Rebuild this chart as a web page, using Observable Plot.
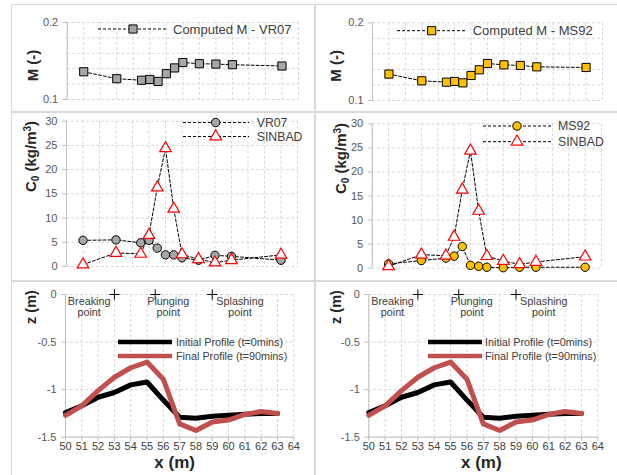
<!DOCTYPE html>
<html><head><meta charset="utf-8">
<script src="https://cdn.jsdelivr.net/npm/d3@7"></script>
<script src="https://cdn.jsdelivr.net/npm/@observablehq/plot@0.6"></script>
<style>
body{margin:0;background:#fff;font-family:"Liberation Sans",Arial,sans-serif;}
#wrap{position:relative;width:617px;height:475px;overflow:hidden;background:#fff;}
.cell{position:absolute;outline:1px solid #d9d9d9;}
.cell svg{display:block;overflow:visible;}
</style></head><body><div id="wrap"></div>
<script>
// ---------- data ----------
const stations = [51, 53, 54.5, 55, 55.5, 56, 56.5, 57, 58, 59, 60, 63];
const mVR07 = [0.136, 0.127, 0.125, 0.126, 0.1235, 0.1335, 0.141, 0.148, 0.1465, 0.146, 0.1452, 0.1435];
const mMS92 = [0.134, 0.1253, 0.1236, 0.1245, 0.1227, 0.1322, 0.1395, 0.1476, 0.1459, 0.1451, 0.1433, 0.1425];
const c0VR07 = [5.4, 5.5, 4.9, 5.4, 3.8, 2.4, 2.4, 1.8, 1.3, 2.3, 2.1, 1.3];
const c0MS92 = [0.9, 1.6, 2.1, 2.5, 4.5, 0.6, 0.4, 0.2, 0.1, 0.2, 0.2, 0.2];
const c0SINBAD = [0.4, 2.8, 2.6, 6.5, 16.3, 24.4, 11.9, 2.5, 1.5, 0.8, 1.3, 2.4];
const profileX = [50, 51, 52, 53, 54, 55, 56, 57, 58, 59, 60, 61, 62, 63];
const zInitial = [-1.24, -1.17, -1.08, -1.03, -0.95, -0.92, -1.11, -1.29, -1.30, -1.28, -1.27, -1.26, -1.25, -1.25];
const zFinal = [-1.27, -1.17, -1.01, -0.87, -0.77, -0.71, -0.89, -1.36, -1.43, -1.34, -1.32, -1.26, -1.23, -1.25];
const pointX = [53, 55.5, 59];
const pointLabels = ["Breaking\npoint", "Plunging\npoint", "Splashing\npoint"];
const pointLabelX = [51.45, 56.3, 60.7];
const xTicks = [50, 51, 52, 53, 54, 55, 56, 57, 58, 59, 60, 61, 62, 63, 64];
const mTicks = [0.1, 0.2];
const mGrid = [0.1, 0.12, 0.14, 0.16, 0.18, 0.2];
const c0Ticks = [0, 5, 10, 15, 20, 25, 30];
const zTicks = [-1.5, -1, -0.5, 0];
const xDomain = [50, 64];

// ---------- helpers ----------
const wrap = document.getElementById("wrap");
const FONT = '"Liberation Sans", Arial, sans-serif';
const GRID = {stroke: "#d9d9d9", strokeOpacity: 1, strokeDasharray: "3,2"};
const AXIS = "#bfbfbf";

function addCell(left, top, w, h, opts) {
  const div = document.createElement("div");
  div.className = "cell";
  Object.assign(div.style, {left: left + "px", top: top + "px", width: w + "px", height: h + "px"});
  const svg = Plot.plot({width: w, height: h, ...opts,
    style: {fontFamily: FONT, fontSize: "11px", color: "#595959", background: "transparent", overflow: "visible"}});
  div.appendChild(svg);
  wrap.appendChild(div);
  return d3.select(svg);
}

function legendRow(sel, o) {
  const g = sel.append("g");
  g.append("line").attr("x1", o.x1).attr("x2", o.x2).attr("y1", o.y).attr("y2", o.y)
    .attr("stroke", o.lineColor || "#000").attr("stroke-width", o.lw || 1)
    .attr("stroke-dasharray", o.dash || null);
  if (o.symbol) {
    g.append("path").attr("transform", `translate(${o.mx},${o.y})`)
      .attr("d", d3.symbol(o.symbol, Math.PI * o.r * o.r)())
      .attr("fill", o.fill).attr("stroke", o.stroke).attr("stroke-width", o.sw || 1);
  }
  g.append("text").attr("x", o.tx).attr("y", o.y).attr("dy", "0.36em")
    .attr("text-anchor", "start")
    .attr("font-family", FONT).attr("font-size", o.fs).attr("fill", "#404040").text(o.label);
}

function yTitle(label, dx, dy, size) {
  return Plot.text([label], {frameAnchor: "top-left", dx, dy, rotate: -90, textAnchor: "middle",
    fontWeight: "bold", fontSize: size || 15, fill: "#262626"});
}

// ---------- M panels ----------
function mPanel(left, cfg, values, fill, legendCfg) {
  const data = stations.map((x, i) => ({x, m: values[i]}));
  const s = addCell(left, 5, cfg.w, 107, {
    marginLeft: cfg.ml, marginRight: cfg.mr, marginTop: cfg.mt, marginBottom: cfg.mb,
    x: {domain: xDomain, axis: null},
    y: {domain: [0.1, 0.2], axis: null},
    marks: [
      Plot.gridX(xTicks, GRID),
      Plot.gridY(mGrid, GRID),
      Plot.ruleX([xDomain[0]], {stroke: AXIS}),
      Plot.axisY(mTicks, {tickSize: 4, tickPadding: 5, stroke: AXIS, fill: "#595959", label: null, tickFormat: d => d.toFixed(1)}),
      Plot.line(data, {x: "x", y: "m", stroke: "#000", strokeWidth: 1, strokeDasharray: "3,2"}),
      Plot.dot(data, {x: "x", y: "m", symbol: "square", r: 4.6, fill, stroke: "#000", strokeWidth: 1}),
      yTitle("M (-)", cfg.tdx, cfg.tdy)
    ]
  });
  legendRow(s, {...legendCfg, dash: "3,2", symbol: d3.symbolSquare, r: 4.6, fill, stroke: "#000", fs: 13});
}

mPanel(12, {w: 303, ml: 54.7, mr: 17, mt: 17, mb: 13, tdx: -40, tdy: 43}, mVR07, "#a6a6a6",
  {x1: 86, x2: 155, y: 24, mx: 121, tx: 161, label: "Computed M - VR07"});
mPanel(315, {w: 302, ml: 57, mr: 15, mt: 17.3, mb: 12, tdx: -42, tdy: 43}, mMS92, "#ffc000",
  {x1: 82, x2: 150, y: 25.7, mx: 116.7, tx: 157.7, label: "Computed M - MS92"});

// ---------- C0 panels ----------
function subSup(s) {
  s.selectAll("text").filter(function () { return this.textContent === "C0 (kg/m3)"; })
    .each(function () {
      const t = d3.select(this);
      t.text(null);
      t.append("tspan").text("C");
      t.append("tspan").attr("font-size", "10px").attr("dy", "3").text("0");
      t.append("tspan").attr("dy", "-3").text(" (kg/m");
      t.append("tspan").attr("font-size", "10px").attr("dy", "-5").text("3");
      t.append("tspan").attr("dy", "5").text(")");
    });
}

function cPanel(left, cfg, values, fill, name, lg) {
  const model = stations.map((x, i) => ({x, c: values[i]}));
  const sinbad = stations.map((x, i) => ({x, c: c0SINBAD[i]}));
  const s = addCell(left, 112, cfg.w, 169, {
    marginLeft: cfg.ml, marginRight: cfg.mr, marginTop: cfg.mt, marginBottom: cfg.mb,
    x: {domain: xDomain, axis: null},
    y: {domain: [0, 30], axis: null},
    marks: [
      Plot.gridX(xTicks, GRID),
      Plot.gridY(c0Ticks, GRID),
      Plot.ruleX([xDomain[0]], {stroke: AXIS}),
      Plot.axisY(c0Ticks, {tickSize: 4, tickPadding: 5, stroke: AXIS, fill: "#595959", label: null}),
      Plot.line(model, {x: "x", y: "c", stroke: "#000", strokeWidth: 1, strokeDasharray: "3,2"}),
      Plot.line(sinbad, {x: "x", y: "c", stroke: "#000", strokeWidth: 1, strokeDasharray: "3,2"}),
      Plot.dot(model, {x: "x", y: "c", symbol: "circle", r: 4.2, fill, stroke: "#000", strokeWidth: 1}),
      Plot.dot(sinbad, {x: "x", y: "c", symbol: "triangle", r: 4.3, fill: "#fff", stroke: "#ff0000", strokeWidth: 1.2}),
      yTitle("C0 (kg/m3)", cfg.tdx, cfg.tdy)
    ]
  });
  subSup(s);
  legendRow(s, {x1: lg.x1, x2: lg.x2, y: lg.y1, mx: lg.mx, tx: lg.tx, dash: "3,2", symbol: d3.symbolCircle, r: 4.2, fill, stroke: "#000", fs: 12.3, label: name});
  legendRow(s, {x1: lg.x1, x2: lg.x2, y: lg.y2, mx: lg.mx, tx: lg.tx, dash: "3,2", symbol: d3.symbolTriangle, r: 4.3, fill: "#fff", stroke: "#ff0000", sw: 1.2, fs: 12.3, label: "SINBAD"});
}

cPanel(12, {w: 303, ml: 54, mr: 18, mt: 8.7, mb: 15, tdx: -41, tdy: 35.3}, c0VR07, "#a6a6a6", "VR07",
  {x1: 171, x2: 237, y1: 10.5, y2: 24.5, mx: 203.7, tx: 244.7});
cPanel(315, {w: 302, ml: 56.7, mr: 16, mt: 11.3, mb: 13.3, tdx: -37, tdy: 34.7}, c0MS92, "#ffc000", "MS92",
  {x1: 168, x2: 236, y1: 14, y2: 29.7, mx: 202, tx: 243});

// ---------- profile panels ----------
function pPanel(left, cfg) {
  const init = profileX.map((x, i) => ({x, z: zInitial[i]}));
  const fin = profileX.map((x, i) => ({x, z: zFinal[i]}));
  const pts = pointX.map((x) => ({x, z: 0}));
  const labs = pointLabelX.map((x, i) => ({x, z: 0, t: pointLabels[i]}));
  const s = addCell(left, 281, cfg.w, 194, {
    marginLeft: cfg.ml, marginRight: cfg.mr, marginTop: 13, marginBottom: 38.3,
    x: {domain: xDomain, axis: null},
    y: {domain: [-1.5, 0], axis: null},
    marks: [
      Plot.gridX(xTicks, GRID),
      Plot.gridY(zTicks, GRID),
      Plot.ruleX([xDomain[0]], {stroke: AXIS}),
      Plot.ruleY([-1.5], {stroke: AXIS}),
      Plot.axisY(zTicks, {tickSize: 4, tickPadding: 5, stroke: AXIS, fill: "#595959", label: null, tickFormat: d => String(d)}),
      Plot.axisX(xTicks, {tickSize: 4, tickPadding: 1, stroke: AXIS, fill: "#404040", tickFormat: d => String(d), label: null}),
      Plot.line(init, {x: "x", y: "z", stroke: "#000", strokeWidth: 5}),
      Plot.line(fin, {x: "x", y: "z", stroke: "#c0504d", strokeWidth: 5}),
      Plot.dot(pts, {x: "x", y: "z", symbol: "plus", r: 3.4, stroke: "#000", strokeWidth: 1}),
      Plot.text(labs, {x: "x", y: "z", text: "t", lineAnchor: "top", dy: 2, lineHeight: 1.05, fontSize: 10.8, fill: "#404040"}),
      yTitle("z (m)", cfg.tdx, 12.5, 14.5),
      Plot.text(["x (m)"], {frameAnchor: "bottom", dx: cfg.xdx, dy: 30.5, fontWeight: "bold", fontSize: 17, fill: "#262626"})
    ]
  });
  legendRow(s, {x1: cfg.lx1, x2: cfg.lx2, y: 61, tx: cfg.ltx, lineColor: "#000", lw: 4.5, fs: 10.8, label: "Initial Profile (t=0mins)"});
  legendRow(s, {x1: cfg.lx1, x2: cfg.lx2, y: 75, tx: cfg.ltx, lineColor: "#c0504d", lw: 4.5, fs: 10.8, label: "Final Profile (t=90mins)"});
}

pPanel(12, {w: 303, ml: 53, mr: 21.7, tdx: -40, xdx: -5, lx1: 106, lx2: 160, ltx: 164});
pPanel(315, {w: 302, ml: 53.3, mr: 19.7, tdx: -38, xdx: -2, lx1: 113, lx2: 167, ltx: 170});
</script></body></html>
